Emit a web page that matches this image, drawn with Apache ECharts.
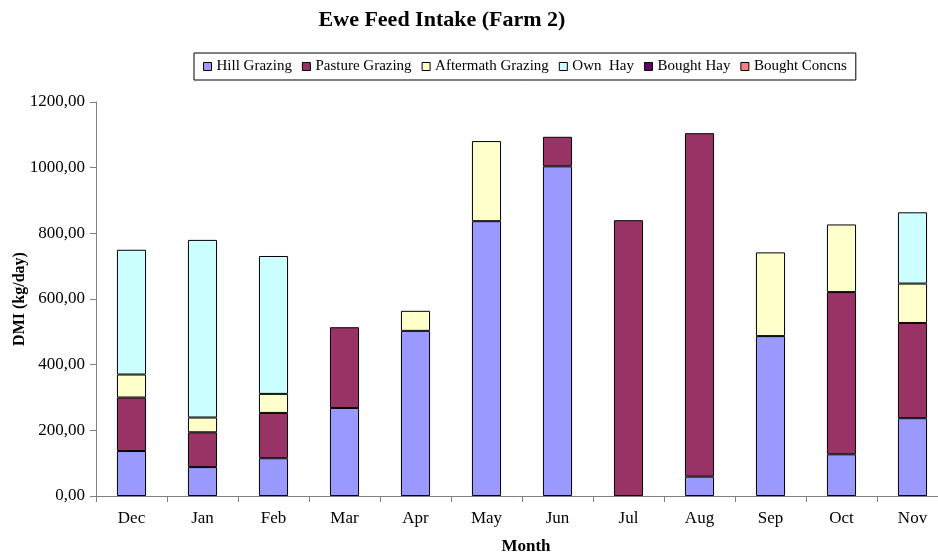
<!DOCTYPE html>
<html>
<head>
<meta charset="utf-8">
<script src="https://cdn.jsdelivr.net/npm/echarts@6/dist/echarts.min.js"></script>
<style>
  html, body { margin: 0; padding: 0; background: #fff; }
  #chart { width: 938px; height: 557px; }
</style>
</head>
<body>
<div id="chart"></div>
<script>
// Monthly ewe feed intake, dry matter (kg/day), by feed source
const months = ['Dec', 'Jan', 'Feb', 'Mar', 'Apr', 'May', 'Jun', 'Jul', 'Aug', 'Sep', 'Oct', 'Nov'];
const hillGrazing      = [137, 88, 115, 268, 503, 837, 1004, 0, 59, 487, 127, 237];
const pastureGrazing   = [163, 106, 138, 246, 0, 0, 90, 840, 1046, 0, 494, 290];
const aftermathGrazing = [70, 45, 58, 0, 61, 244, 0, 0, 0, 255, 206, 120];
const ownHay           = [380, 541, 420, 0, 0, 0, 0, 0, 0, 0, 0, 217];
const boughtHay        = [0, 0, 0, 0, 0, 0, 0, 0, 0, 0, 0, 0];
const boughtConcns     = [0, 0, 0, 0, 0, 0, 0, 0, 0, 0, 0, 0];

const seriesDefs = [
  { name: 'Hill Grazing', data: hillGrazing, color: '#9999FF' },
  { name: 'Pasture Grazing', data: pastureGrazing, color: '#993366' },
  { name: 'Aftermath Grazing', data: aftermathGrazing, color: '#FFFFCC' },
  { name: 'Own  Hay', data: ownHay, color: '#CCFFFF' },
  { name: 'Bought Hay', data: boughtHay, color: '#660066' },
  { name: 'Bought Concns', data: boughtConcns, color: '#FF8080' }
];

const serif = '"Liberation Serif", "Times New Roman", serif';
const chart = echarts.init(document.getElementById('chart'));

chart.setOption({
  animation: false,
  backgroundColor: '#fff',
  title: {
    text: 'Ewe Feed Intake (Farm 2)',
    left: 437,
    textAlign: 'center',
    top: 4,
    textStyle: { fontFamily: serif, fontSize: 22, fontWeight: 'bold', color: '#000' }
  },
  legend: {
    left: 194,
    top: 53,
    padding: [6, 9, 6, 9],
    borderColor: '#000',
    borderWidth: 1,
    itemWidth: 8,
    itemHeight: 8,
    itemGap: 10,
    icon: 'rect',
    itemStyle: { borderColor: '#000', borderWidth: 1 },
    textStyle: { fontFamily: serif, fontSize: 15, color: '#000' },
    data: seriesDefs.map(s => s.name)
  },
  // the category axis runs on past the right edge of the canvas
  grid: { left: 96, right: -10, top: 102, bottom: 61, outerBoundsMode: 'none', containLabel: false },
  xAxis: {
    type: 'category',
    data: months,
    name: 'Month',
    nameLocation: 'middle',
    nameGap: 42,
    nameMoveOverlap: false,
    nameTextStyle: { fontFamily: serif, fontSize: 17, fontWeight: 'bold', color: '#000', padding: [0, 0, 0, 8] },
    axisLine: { lineStyle: { color: '#808080', width: 1 } },
    axisTick: { show: true, length: 6, lineStyle: { color: '#808080' } },
    axisLabel: { fontFamily: serif, fontSize: 17, color: '#000', margin: 14 }
  },
  yAxis: {
    type: 'value',
    min: 0,
    max: 1200,
    interval: 200,
    name: 'DMI (kg/day)',
    nameLocation: 'middle',
    nameGap: 68,
    nameMoveOverlap: false,
    nameRotate: 90,
    nameTextStyle: { fontFamily: serif, fontSize: 16, fontWeight: 'bold', color: '#000' },
    splitLine: { show: false },
    axisLine: { show: true, lineStyle: { color: '#808080', width: 1 } },
    axisTick: { show: true, inside: false, length: 6, lineStyle: { color: '#808080' } },
    axisLabel: {
      fontFamily: serif, fontSize: 17, color: '#000', margin: 11,
      formatter: v => v.toFixed(2).replace('.', ',')
    }
  },
  series: seriesDefs.map(s => ({
    name: s.name,
    type: 'bar',
    stack: 'feed',
    barWidth: '41%',
    // empty segments are left out so no zero-height outlines are drawn
    data: s.data.map(v => (v === 0 ? '-' : v)),
    itemStyle: { color: s.color, borderColor: '#000', borderWidth: 1 }
  }))
});
</script>
</body>
</html>
